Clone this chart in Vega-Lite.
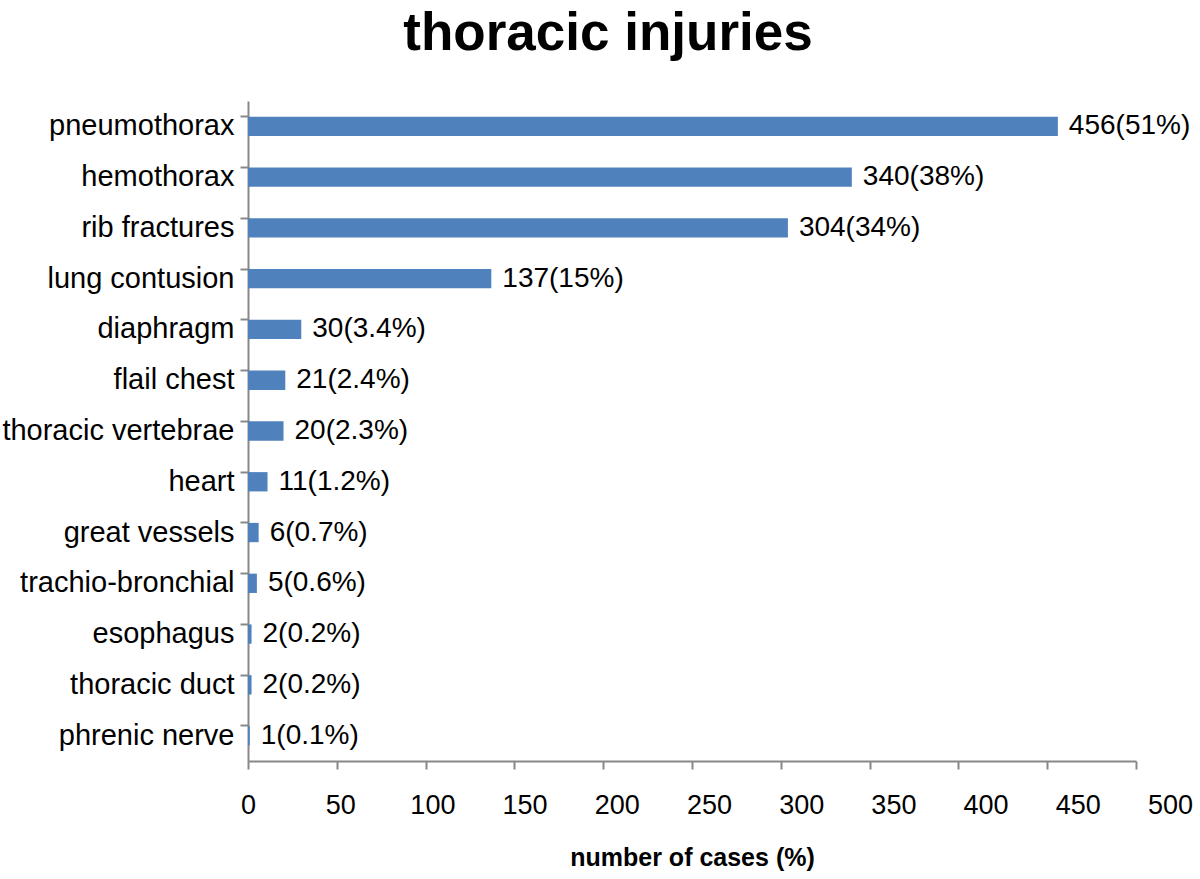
{
  "$schema": "https://vega.github.io/schema/vega-lite/v6.json",
  "width": 888,
  "height": 660,
  "autosize": {"type": "none"},
  "padding": {"left": 248, "top": 101, "right": 64, "bottom": 118},
  "background": "white",
  "config": {"font": "Liberation Sans", "view": {"stroke": null}},
  "title": {"text": "thoracic injuries", "fontSize": 53, "fontWeight": "bold", "color": "black", "font": "Liberation Sans", "anchor": "middle", "dx": -84, "offset": 40},
  "data": {"values": [
    {"injury": "pneumothorax", "cases": 456, "label": "456(51%)"},
    {"injury": "hemothorax", "cases": 340, "label": "340(38%)"},
    {"injury": "rib fractures", "cases": 304, "label": "304(34%)"},
    {"injury": "lung contusion", "cases": 137, "label": "137(15%)"},
    {"injury": "diaphragm", "cases": 30, "label": "30(3.4%)"},
    {"injury": "flail chest", "cases": 21, "label": "21(2.4%)"},
    {"injury": "thoracic vertebrae", "cases": 20, "label": "20(2.3%)"},
    {"injury": "heart", "cases": 11, "label": "11(1.2%)"},
    {"injury": "great vessels", "cases": 6, "label": "6(0.7%)"},
    {"injury": "trachio-bronchial", "cases": 5, "label": "5(0.6%)"},
    {"injury": "esophagus", "cases": 2, "label": "2(0.2%)"},
    {"injury": "thoracic duct", "cases": 2, "label": "2(0.2%)"},
    {"injury": "phrenic nerve", "cases": 1, "label": "1(0.1%)"}
  ]},
  "resolve": {"axis": {"y": "independent"}},
  "layer": [
    {
      "mark": {"type": "bar", "color": "#4F81BD"},
      "encoding": {
        "y": {"field": "injury", "type": "nominal", "sort": null,
          "scale": {"paddingInner": 0.62, "paddingOuter": 0.31},
          "axis": {"orient": "left", "title": null, "ticks": false, "domain": false, "labelFontSize": 29, "labelColor": "black", "labelPadding": 14, "labelLimit": 300}},
        "x": {"field": "cases", "type": "quantitative",
          "scale": {"domain": [0, 500], "nice": false},
          "axis": {"title": "number of cases (%)", "titleFontSize": 25, "titleFontWeight": "bold", "titleColor": "black", "titlePadding": 27,
            "values": [0, 50, 100, 150, 200, 250, 300, 350, 400, 450, 500],
            "grid": false, "domainColor": "#888888", "domainWidth": 2, "tickColor": "#888888", "tickWidth": 2, "tickSize": 8,
            "labelFontSize": 27, "labelColor": "black", "labelPadding": 23, "labelFlush": false,
            "labelOffset": {"expr": "datum.value * 0.068"}}}
      }
    },
    {
      "mark": {"type": "text", "align": "left", "dx": 11, "fontSize": 28, "color": "black"},
      "encoding": {
        "y": {"field": "injury", "type": "nominal", "sort": null,
          "axis": {"orient": "left", "title": null, "labels": false, "bandPosition": 0, "domainColor": "#888888", "domainWidth": 2, "tickColor": "#888888", "tickWidth": 2, "tickSize": 8}},
        "x": {"field": "cases", "type": "quantitative"},
        "text": {"field": "label"}
      }
    }
  ]
}
